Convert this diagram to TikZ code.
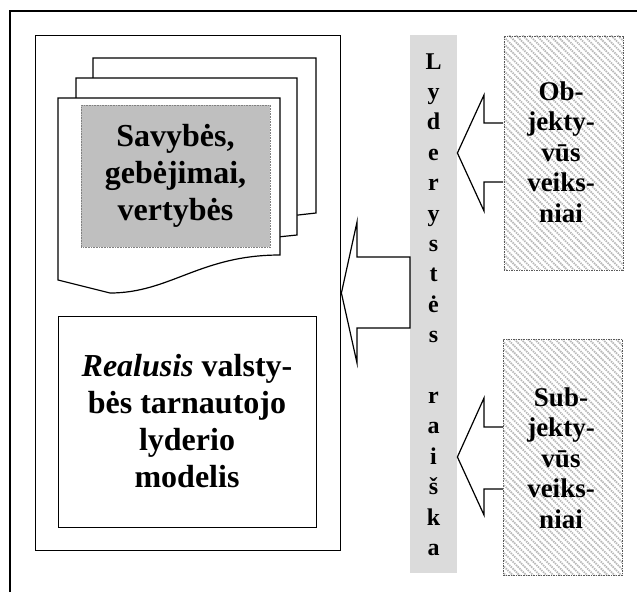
\documentclass[tikz,border=0pt]{standalone}
\usepackage{fontspec}
\setmainfont{Liberation Serif}
\usetikzlibrary{patterns.meta}
\begin{document}
\begin{tikzpicture}[x=1pt,y=-1pt,
  frameline/.style={line width=1.4pt,draw=black},
  page/.style={line width=1.2pt,draw=black,fill=white,line join=miter},
  bigtext/.style={font=\fontsize{32}{37}\selectfont\bfseries,align=center,inner sep=0pt},
  sidetext/.style={font=\fontsize{27}{30.5}\selectfont\bfseries,align=center,inner sep=0pt,anchor=north},
  letter/.style={font=\fontsize{24}{24}\selectfont\bfseries,anchor=base,inner sep=0pt},
  hatchbox/.style={draw=gray!70!black,dash pattern=on 1.5pt off 1pt,line width=0.6pt,
    pattern={Lines[angle=-45,distance=4.8pt,line width=1.8pt]},pattern color=gray!55,
    rectangle,inner sep=0pt},
  blockarrow/.style={line width=1.2pt,draw=black,fill=white,line join=miter}]
\useasboundingbox (0,0) rectangle (637,592);
% outer frame (runs off the page at right and bottom)
\coordinate (ofb) at (10,592);
\coordinate (ofc) at (10,11);
\coordinate (ofr) at (637,11);
\draw[frameline] (ofb) -- (ofc) -- (ofr);
% inner frame
\node[frameline,rectangle,minimum width=305pt,minimum height=515pt,inner sep=0pt,anchor=north west] (inner) at (35,35) {};
% stacked pages
\draw[page] (93,58) -- (316,58) -- (316,213) -- (200,226) -- (93,232) -- cycle;
\draw[page] (76,78) -- (297,78) -- (297,235) -- (200,245) -- (76,250) -- cycle;
\draw[page] (58,98) -- (280,98) -- (280,255) .. controls (200,255) and (170,293) .. (110,293) -- (58,280) -- cycle;
% gray box with text
\node[rectangle,fill=gray!50,draw=gray,densely dotted,line width=0.6pt,minimum width=189pt,minimum height=142pt,anchor=north west] (qual) at (81,105) {};
\node[bigtext] (qualtext) at (175.5,176) {Savybės,\\gebėjimai,\\vertybės};
% model box
\node[rectangle,draw=black,line width=1.2pt,minimum width=258pt,minimum height=211pt,anchor=north west] (model) at (58,316) {};
\node[bigtext] (modeltext) at (187,421) {\textit{Realusis} valsty-\\bės tarnautojo\\lyderio\\modelis};
% vertical bar
\node[rectangle,fill=gray!28,minimum width=47pt,minimum height=538pt,inner sep=0pt,anchor=north west] (bar) at (410,35) {};
\foreach \l [count=\i from 0] in {L,y,d,e,r,y,s,t,ė,s}
  \node[letter] (la\i) at (433.5,69+30.4*\i) {\l};
\foreach \l [count=\i from 11] in {r,a,i,š,k,a}
  \node[letter] (lb\i) at (433.5,69+30.4*\i) {\l};
% factor boxes
\node[hatchbox,minimum width=119pt,minimum height=234pt,anchor=north west] (obj) at (503,35) {};
\node[sidetext] (objtext) at (561,81.5) {Ob-\\jekty-\\vūs\\veiks-\\niai};
\node[hatchbox,minimum width=119pt,minimum height=236pt,anchor=north west] (subj) at (503,339) {};
\node[sidetext] (subjtext) at (561,387.5) {Sub-\\jekty-\\vūs\\veiks-\\niai};
% block arrows
\draw[blockarrow] (bar.west |- 0,257) -- (357,257) -- (357,222) -- (inner.east |- 0,293) -- (357,363) -- (357,328) -- (bar.west |- 0,328) -- cycle;
\draw[blockarrow] (obj.west |- 0,123) -- (484,123) -- (484,95) -- (bar.east |- 0,153) -- (484,211) -- (484,182) -- (obj.west |- 0,182);
\draw[blockarrow] (subj.west |- 0,427) -- (484,427) -- (484,398) -- (bar.east |- 0,457) -- (484,515) -- (484,489) -- (subj.west |- 0,489);
\end{tikzpicture}
\end{document}
